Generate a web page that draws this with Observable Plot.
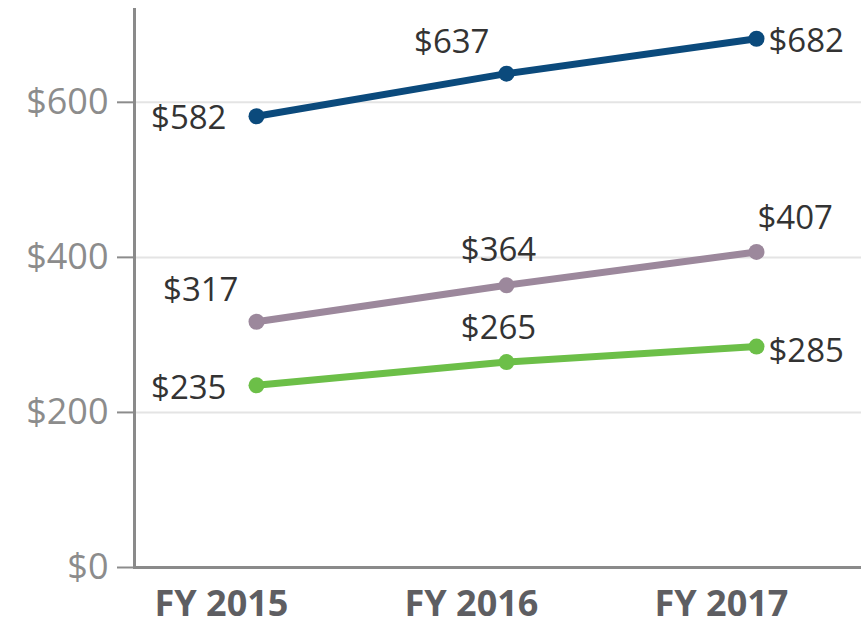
<!DOCTYPE html>
<html>
<head>
<meta charset="utf-8">
<script src="https://cdn.jsdelivr.net/npm/d3@7"></script>
<script src="https://cdn.jsdelivr.net/npm/@observablehq/plot@0.6"></script>
<style>
  html, body { margin: 0; padding: 0; background: #fff; }
  #chart svg { display: block; }
</style>
</head>
<body>
<div id="chart"></div>
<script>
// ---- data ----
const years = ["FY 2015", "FY 2016", "FY 2017"];
const seriesNames = ["Top series", "Middle series", "Bottom series"];
const topValues = [582, 637, 682];
const middleValues = [317, 364, 407];
const bottomValues = [235, 265, 285];
const yTicks = [0, 200, 400, 600];

// ---- styles / placements ----
const seriesColors = ["#0b4a7c", "#9c889c", "#6cbf48"];
// label placement per series per year: [anchor, dx, dy]
const labelPlacement = [
  [["end", -30, 2], ["end", -17, -31], ["start", 12, 3]],
  [["end", -18, -31], ["middle", -8, -35], ["start", 1, -34]],
  [["end", -30, 3], ["middle", -8, -34], ["start", 12, 5]]
];
const insetLeft = 122, insetRight = 105;

const valuesBySeries = [topValues, middleValues, bottomValues];
const data = [];
valuesBySeries.forEach((vals, si) => {
  vals.forEach((v, i) => data.push({series: seriesNames[si], year: years[i], value: v, si, i}));
});

const labelMarks = data.map(d => {
  const [anchor, dx, dy] = labelPlacement[d.si][d.i];
  return Plot.text([d], {
    x: "year", y: "value", text: d => "$" + d.value,
    textAnchor: anchor, dx, dy,
    fill: "#333333", fontSize: 33, fontFamily: "Open Sans", letterSpacing: 2.5
  });
});

const chart = Plot.plot({
  width: 861,
  height: 628,
  marginLeft: 133,
  marginRight: 0,
  marginTop: 8,
  marginBottom: 61,
  style: {fontFamily: "Open Sans", background: "#fff"},
  x: {type: "point", domain: years, padding: 0, insetLeft, insetRight, label: null},
  y: {domain: [0, 721], label: null},
  color: {domain: seriesNames, range: seriesColors},
  marks: [
    Plot.gridY(yTicks.filter(d => d > 0), {stroke: "#e4e4e4", strokeOpacity: 1, strokeWidth: 2}),
    Plot.axisY(yTicks, {
      tickSize: 16, tickPadding: 9, tickFormat: d => "$" + d, label: null,
      fontSize: 36, color: "#8c8c8c", strokeWidth: 2, letterSpacing: 2.5
    }),
    Plot.axisX({
      tickSize: 0, tickPadding: 23, fontSize: 36, fontWeight: "bold",
      color: "#5e5e62", dx: -35, label: null, letterSpacing: 0.5
    }),
    Plot.ruleY([0], {stroke: "#8a8a8a", strokeWidth: 3}),
    Plot.ruleX([years[0]], {dx: -insetLeft, y1: 0, y2: 721, stroke: "#8a8a8a", strokeWidth: 3}),
    Plot.line(data, {x: "year", y: "value", z: "series", stroke: "series", strokeWidth: 7}),
    Plot.dot(data, {x: "year", y: "value", fill: "series", r: 8}),
    ...labelMarks
  ]
});
document.getElementById("chart").append(chart);
</script>
</body>
</html>
